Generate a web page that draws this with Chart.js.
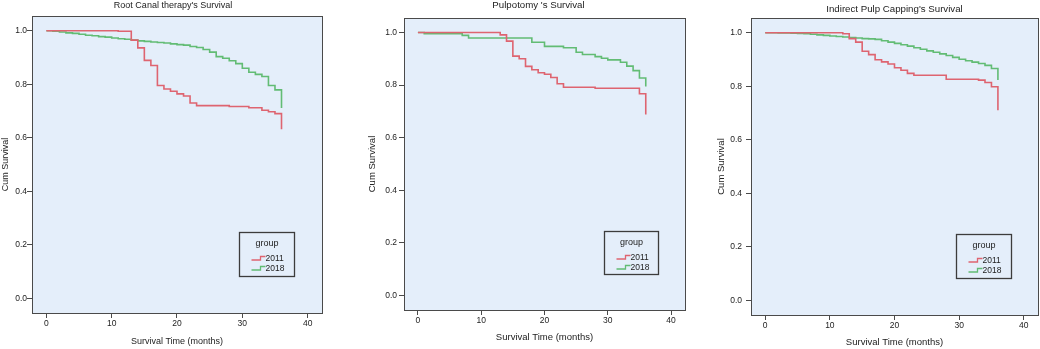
<!DOCTYPE html>
<html>
<head>
<meta charset="utf-8">
<script src="https://cdn.jsdelivr.net/npm/chart.js@4.4.1/dist/chart.umd.min.js"></script>
<style>
  body { margin: 0; background: #fff; }
  .panel { position: absolute; top: 0; }
</style>
</head>
<body>
<canvas id="rctChart" class="panel" width="345" height="349" style="left:0px"></canvas>
<canvas id="pulpChart" class="panel" width="345" height="349" style="left:345px"></canvas>
<canvas id="ipcChart" class="panel" width="350" height="349" style="left:690px"></canvas>
<script>
const groupLabels = ['2011', '2018'];
const xTicks = [0, 10, 20, 30, 40];
const yTicks = [0.0, 0.2, 0.4, 0.6, 0.8, 1.0];

// Root canal therapy
const rctMonths2011 = [0, 11, 13, 14, 15, 16, 17, 18, 19, 20, 21, 22, 23, 28, 31, 33, 34, 35, 36];
const rctSurv2011 = [1.0, 0.998, 0.965, 0.936, 0.889, 0.870, 0.795, 0.782, 0.774, 0.764, 0.756, 0.730, 0.720, 0.717, 0.712, 0.703, 0.697, 0.690, 0.632];
const rctMonths2018 = [0, 1, 2, 3, 4, 5, 6, 7, 8, 9, 10, 11, 12, 13, 14, 15, 16, 17, 18, 19, 20, 21, 22, 23, 24, 25, 26, 27, 28, 29, 30, 31, 32, 33, 34, 35, 36];
const rctSurv2018 = [1.0, 0.998, 0.995, 0.992, 0.990, 0.987, 0.983, 0.981, 0.978, 0.976, 0.973, 0.970, 0.968, 0.965, 0.962, 0.960, 0.958, 0.956, 0.954, 0.951, 0.948, 0.946, 0.941, 0.937, 0.930, 0.920, 0.903, 0.897, 0.888, 0.877, 0.860, 0.845, 0.837, 0.829, 0.795, 0.779, 0.711];

// Pulpotomy
const pulpMonths2011 = [0, 13, 14, 15, 16, 17, 18, 19, 20, 21, 22, 23, 28, 35, 36];
const pulpSurv2011 = [1.0, 0.991, 0.967, 0.910, 0.900, 0.871, 0.858, 0.847, 0.841, 0.829, 0.805, 0.792, 0.788, 0.767, 0.688];
const pulpMonths2018 = [0, 1, 7, 8, 18, 20, 23, 25, 26, 28, 29, 30, 32, 33, 34, 35, 36];
const pulpSurv2018 = [1.0, 0.995, 0.989, 0.979, 0.963, 0.947, 0.942, 0.925, 0.916, 0.908, 0.902, 0.896, 0.887, 0.872, 0.855, 0.827, 0.795];

// Indirect pulp capping
const ipcMonths2011 = [0, 12, 13, 14, 15, 16, 17, 18, 19, 20, 21, 22, 23, 28, 33, 34, 35, 36];
const ipcSurv2011 = [1.0, 0.996, 0.978, 0.965, 0.931, 0.918, 0.899, 0.891, 0.883, 0.869, 0.860, 0.848, 0.841, 0.826, 0.823, 0.814, 0.798, 0.710];
const ipcMonths2018 = [0, 1, 2, 3, 4, 5, 6, 7, 8, 9, 10, 11, 12, 13, 14, 15, 16, 17, 18, 19, 20, 21, 22, 23, 24, 25, 26, 27, 28, 29, 30, 31, 32, 33, 34, 35, 36];
const ipcSurv2018 = [1.0, 1.0, 0.999, 0.999, 0.998, 0.997, 0.996, 0.994, 0.992, 0.990, 0.988, 0.986, 0.984, 0.982, 0.980, 0.978, 0.977, 0.975, 0.970, 0.965, 0.960, 0.955, 0.950, 0.944, 0.938, 0.932, 0.927, 0.921, 0.915, 0.908, 0.901, 0.895, 0.890, 0.885, 0.878, 0.866, 0.823];

const RED = '#de6470';
const GREEN = '#62bc74';
const PLOT_BG = '#e4eefa';
const FRAME = '#4a4a4a';
const TEXT = '#222';
const FONT = '"Liberation Sans", Arial, sans-serif';

const toPoints = (months, surv) => months.map((m, i) => ({ x: m, y: surv[i] }));

function framePlugin() {
  return {
    id: 'frame',
    beforeDraw(chart) {
      const { ctx, chartArea: a } = chart;
      ctx.save();
      ctx.fillStyle = PLOT_BG;
      ctx.fillRect(a.left, a.top, a.right - a.left, a.bottom - a.top);
      ctx.restore();
    },
    afterDraw(chart) {
      const { ctx, chartArea: a } = chart;
      ctx.save();
      ctx.strokeStyle = FRAME;
      ctx.lineWidth = 1;
      ctx.strokeRect(Math.round(a.left) + 0.5, Math.round(a.top) + 0.5, Math.round(a.right - a.left), Math.round(a.bottom - a.top));
      ctx.restore();
    },
  };
}

function titlePlugin(text, cfg) {
  return {
    id: 'kmTitle',
    afterDraw(chart) {
      const { ctx, chartArea: a } = chart;
      ctx.save();
      ctx.fillStyle = TEXT;
      ctx.font = cfg.titleSize + 'px ' + FONT;
      ctx.textAlign = 'center';
      ctx.textBaseline = 'middle';
      ctx.fillText(text, (a.left + a.right) / 2 + cfg.titleDx, cfg.titleY);
      ctx.restore();
    },
  };
}

// SPSS style legend box inside the plot area
function legendPlugin() {
  return {
    id: 'groupLegend',
    afterDraw(chart) {
      const { ctx, chartArea: a } = chart;
      const w = a.right - a.left;
      const h = a.bottom - a.top;
      const left = Math.round(a.left + w * 0.713) + 0.5;
      const right = Math.round(a.left + w * 0.905) + 0.5;
      const top = Math.round(a.top + h * 0.728) + 0.5;
      const bottom = Math.round(a.top + h * 0.877) + 0.5;
      ctx.save();
      ctx.strokeStyle = '#3c3c3c';
      ctx.lineWidth = 1.3;
      ctx.strokeRect(left, top, right - left, bottom - top);
      ctx.fillStyle = TEXT;
      ctx.font = '9px ' + FONT;
      ctx.textAlign = 'center';
      ctx.textBaseline = 'middle';
      ctx.fillText('group', (left + right) / 2, top + 11);
      chart.data.datasets.forEach((ds, i) => {
        const y = top + 26 + i * 10;
        const x0 = left + 12;
        ctx.strokeStyle = ds.borderColor;
        ctx.lineWidth = 1.3;
        ctx.beginPath();
        ctx.moveTo(x0, y + 1.5);
        ctx.lineTo(x0 + 9, y + 1.5);
        ctx.lineTo(x0 + 9, y - 2);
        ctx.lineTo(x0 + 14, y - 2);
        ctx.stroke();
        ctx.fillStyle = TEXT;
        ctx.font = '8.5px ' + FONT;
        ctx.textAlign = 'left';
        ctx.fillText(ds.label, x0 + 14, y);
      });
      ctx.restore();
    },
  };
}

function makePanel(id, title, m2011, s2011, m2018, s2018, cfg) {
  const ctx = document.getElementById(id).getContext('2d');
  return new Chart(ctx, {
    type: 'line',
    data: {
      datasets: [
        { label: groupLabels[0], data: toPoints(m2011, s2011), borderColor: RED, borderWidth: 1.6, stepped: true, pointRadius: 0, fill: false },
        { label: groupLabels[1], data: toPoints(m2018, s2018), borderColor: GREEN, borderWidth: 1.6, stepped: true, pointRadius: 0, fill: false },
      ],
    },
    options: {
      responsive: false,
      animation: false,
      layout: { padding: { top: cfg.padTop, right: cfg.padRight, left: 0, bottom: 0 } },
      plugins: {
        legend: { display: false },
        tooltip: { enabled: false },
      },
      scales: {
        x: {
          type: 'linear',
          min: -2.2,
          max: 42.2,
          afterBuildTicks: (s) => { s.ticks = xTicks.map((v) => ({ value: v })); },
          afterFit: (s) => { s.height = cfg.xHeight; },
          grid: { drawOnChartArea: false, drawTicks: true, tickLength: 5, color: FRAME },
          border: { display: false },
          ticks: { color: TEXT, padding: 1, maxRotation: 0, font: { family: FONT, size: 8.5 } },
          title: { display: true, text: 'Survival Time (months)', color: TEXT, font: { family: FONT, size: cfg.axisSize }, padding: { top: 0, bottom: cfg.xTitlePad } },
        },
        y: {
          type: 'linear',
          min: -0.055,
          max: 1.055,
          afterBuildTicks: (s) => { s.ticks = yTicks.map((v) => ({ value: v })); },
          afterFit: (s) => { s.width = cfg.yWidth; },
          grid: { drawOnChartArea: false, drawTicks: true, tickLength: 5, color: FRAME },
          border: { display: false },
          ticks: { color: TEXT, padding: cfg.yTickPad, font: { family: FONT, size: 8.5 }, callback: (v) => v.toFixed(1) },
          title: { display: true, text: 'Cum Survival', color: TEXT, font: { family: FONT, size: cfg.axisSize }, padding: { top: cfg.yTitlePad, bottom: 0 } },
        },
      },
    },
    plugins: [framePlugin(), titlePlugin(title, cfg), legendPlugin()],
  });
}

makePanel('rctChart', "Root Canal therapy's Survival", rctMonths2011, rctSurv2011, rctMonths2018, rctSurv2018,
  { padTop: 16, padRight: 23, xHeight: 36, yWidth: 32, yTickPad: 0, yTitlePad: 0, xTitlePad: 2.5, axisSize: 9, titleSize: 9, titleY: 6, titleDx: -4 });
makePanel('pulpChart', "Pulpotomy 's Survival", pulpMonths2011, pulpSurv2011, pulpMonths2018, pulpSurv2018,
  { padTop: 18, padRight: 5, xHeight: 39, yWidth: 59, yTickPad: 2, yTitlePad: 21.5, xTitlePad: 6, axisSize: 9.5, titleSize: 9.7, titleY: 5, titleDx: -6 });
makePanel('ipcChart', "Indirect Pulp Capping's Survival", ipcMonths2011, ipcSurv2011, ipcMonths2018, ipcSurv2018,
  { padTop: 18, padRight: 2, xHeight: 34, yWidth: 61, yTickPad: 4, yTitlePad: 25.5, xTitlePad: 1, axisSize: 9.5, titleSize: 9.7, titleY: 9, titleDx: 0 });
</script>
</body>
</html>
